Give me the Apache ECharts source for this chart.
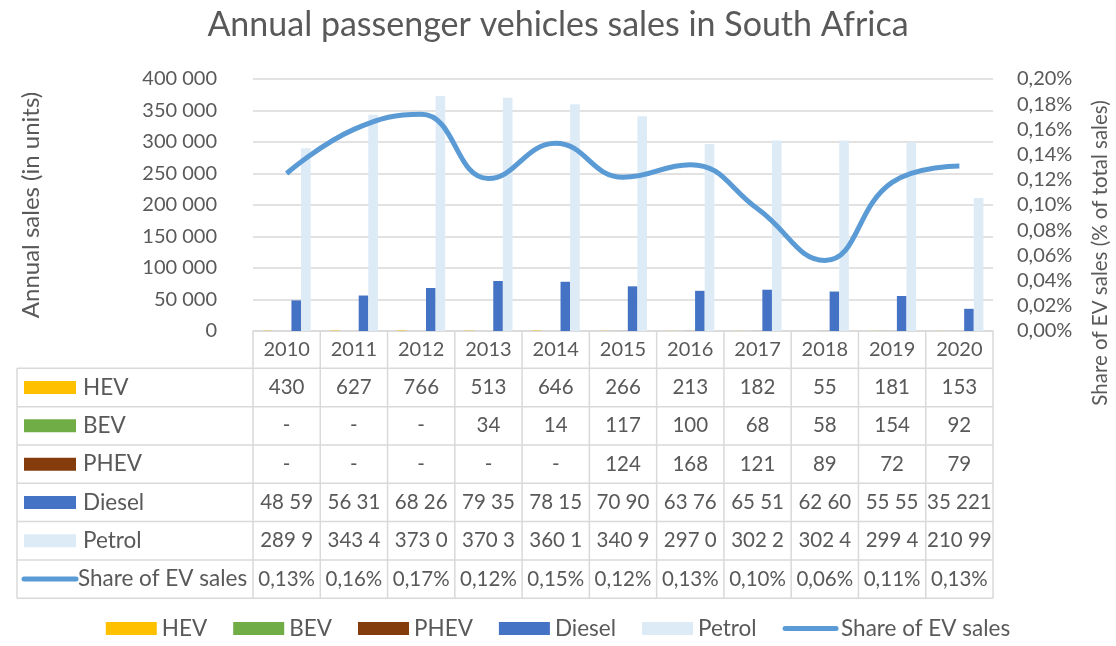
<!DOCTYPE html>
<html>
<head>
<meta charset="utf-8">
<script src="https://cdn.jsdelivr.net/npm/echarts@6/dist/echarts.min.js"></script>
<style>
html, body { margin: 0; padding: 0; background: #fff; }
#chart { width: 1116px; height: 646px; }
</style>
</head>
<body>
<div id="chart"></div>
<script>
var years = ['2010', '2011', '2012', '2013', '2014', '2015', '2016', '2017', '2018', '2019', '2020'];
var hev = [430, 627, 766, 513, 646, 266, 213, 182, 55, 181, 153];
var bev = [null, null, null, 34, 14, 117, 100, 68, 58, 154, 92];
var phev = [null, null, null, null, null, 124, 168, 121, 89, 72, 79];
var diesel = [48590, 56310, 68260, 79350, 78150, 70900, 63760, 65510, 62600, 55550, 35221];
var petrol = [289900, 343400, 373000, 370300, 360100, 340900, 297000, 302200, 302400, 299400, 210990];
var evShare = [0.125, 0.160, 0.172, 0.121, 0.149, 0.122, 0.132, 0.097, 0.056, 0.118, 0.131];

// table text as printed (cells are clipped in the source)
var dieselCells = ['48 59', '56 31', '68 26', '79 35', '78 15', '70 90', '63 76', '65 51', '62 60', '55 55', '35 221'];
var petrolCells = ['289 9', '343 4', '373 0', '370 3', '360 1', '340 9', '297 0', '302 2', '302 4', '299 4', '210 99'];
var shareCells = ['0,13%', '0,16%', '0,17%', '0,12%', '0,15%', '0,12%', '0,13%', '0,10%', '0,06%', '0,11%', '0,13%'];

var colors = { HEV: '#FFC000', BEV: '#70AD47', PHEV: '#843C0C', Diesel: '#4472C4', Petrol: '#DDEBF7', Share: '#5B9BD5' };
var txt = '#595959';
var font = 'Lato, "Open Sans", sans-serif';
var border = '#D9D9D9';

function spaced(v) {
	return String(v).replace(/\B(?=(\d{3})+(?!\d))/g, ' ');
}
function dash(arr) {
	return arr.map(function (v) { return v == null ? '-' : String(v); });
}

var chart = echarts.init(document.getElementById('chart'));

function bar(name, data) {
	return {
		name: name,
		type: 'bar',
		yAxisIndex: 0,
		barGap: '0%',
		barCategoryGap: '28.6%',
		itemStyle: { color: colors[name] },
		data: data
	};
}

chart.setOption({
	animation: false,
	textStyle: { fontFamily: font, color: txt },
	title: {
		text: 'Annual passenger vehicles sales in South Africa',
		left: 'center',
		top: 3,
		textStyle: { fontFamily: font, fontSize: 34, fontWeight: 'normal', color: txt }
	},
	legend: {
		bottom: 1,
		left: 'center',
		itemWidth: 51,
		itemHeight: 13,
		itemGap: 26,
		textStyle: { fontFamily: font, fontSize: 22.5, color: txt },
		data: [
			{ name: 'HEV', icon: 'rect' },
			{ name: 'BEV', icon: 'rect' },
			{ name: 'PHEV', icon: 'rect' },
			{ name: 'Diesel', icon: 'rect' },
			{ name: 'Petrol', icon: 'rect' },
			{ name: 'Share of EV sales', itemStyle: { opacity: 0 }, lineStyle: { width: 5, cap: 'round' } }
		]
	},
	grid: { left: 253, right: 123, top: 79, bottom: 315 },
	xAxis: {
		type: 'category',
		data: years,
		axisLine: { lineStyle: { color: border, width: 1.5 } },
		axisTick: { show: false },
		axisLabel: { fontFamily: font, fontSize: 20, color: txt, margin: 9 }
	},
	yAxis: [{
		type: 'value',
		min: 0, max: 400000, interval: 50000,
		name: 'Annual sales (in units)',
		nameLocation: 'middle',
		nameGap: 210,
		nameTextStyle: { fontFamily: font, fontSize: 24, color: txt },
		axisLabel: { fontFamily: font, fontSize: 20, color: txt, margin: 36, formatter: spaced },
		splitLine: { lineStyle: { color: border, width: 1.5 } }
	}, {
		type: 'value',
		min: 0, max: 0.2, interval: 0.02,
		axisLabel: {
			fontFamily: font, fontSize: 20, color: txt, margin: 24,
			formatter: function (v) { return v.toFixed(2).replace('.', ',') + '%'; }
		},
		splitLine: { show: false }
	}],
	series: [
		bar('HEV', hev),
		bar('BEV', bev),
		bar('PHEV', phev),
		bar('Diesel', diesel),
		bar('Petrol', petrol),
		{
			name: 'Share of EV sales',
			type: 'line',
			yAxisIndex: 1,
			smooth: 0.45,
			symbol: 'none',
			z: 5,
			lineStyle: { color: colors.Share, width: 5 },
			itemStyle: { color: colors.Share },
			data: evShare
		}
	]
});

// data table under the plot
var tableLeft = 17, gridL = 253, gridR = 993, axisY = 331, headerBottom = 368.3, rowH = 38.33;
var rows = [
	{ name: 'HEV', cells: dash(hev) },
	{ name: 'BEV', cells: dash(bev) },
	{ name: 'PHEV', cells: dash(phev) },
	{ name: 'Diesel', cells: dieselCells },
	{ name: 'Petrol', cells: petrolCells },
	{ name: 'Share of EV sales', cells: shareCells, line: true }
];
var tableBottom = headerBottom + rows.length * rowH;
var colW = (gridR - gridL) / years.length;
var g = [];

function hline(y, x1, x2) {
	g.push({ type: 'line', shape: { x1: x1, y1: y, x2: x2, y2: y }, style: { stroke: border, lineWidth: 1.5 }, silent: true });
}
function vline(x, y1, y2) {
	g.push({ type: 'line', shape: { x1: x, y1: y1, x2: x, y2: y2 }, style: { stroke: border, lineWidth: 1.5 }, silent: true });
}

for (var k = 0; k <= years.length; k++) vline(gridL + k * colW, axisY, tableBottom);
vline(tableLeft, headerBottom, tableBottom);
for (var r = 0; r <= rows.length; r++) hline(headerBottom + r * rowH, tableLeft, gridR);

rows.forEach(function (row, r) {
	var cy = headerBottom + (r + 0.5) * rowH;
	if (row.line) {
		g.push({ type: 'line', shape: { x1: 24, y1: cy, x2: 76, y2: cy },
			style: { stroke: colors.Share, lineWidth: 5, lineCap: 'round' } });
	} else {
		g.push({ type: 'rect', shape: { x: 24, y: cy - 6.5, width: 52, height: 13 },
			style: { fill: colors[row.name] } });
	}
	g.push({ type: 'text', x: row.line ? 78 : 83, y: cy,
		style: { text: row.name, fill: txt, font: '22.5px ' + font, align: 'left', verticalAlign: 'middle' } });
	row.cells.forEach(function (c, i) {
		var cx = chart.convertToPixel({ xAxisIndex: 0 }, years[i]);
		g.push({ type: 'text', x: cx, y: cy,
			style: { text: c, fill: txt, font: '20.5px ' + font, align: 'center', verticalAlign: 'middle' } });
	});
});

g.push({ type: 'text', x: 1100, y: 253, rotation: Math.PI / 2,
	style: { text: 'Share of EV sales (% of total sales)', fill: txt, font: '20.5px ' + font, align: 'center', verticalAlign: 'middle' } });

chart.setOption({ graphic: g });
</script>
</body>
</html>
